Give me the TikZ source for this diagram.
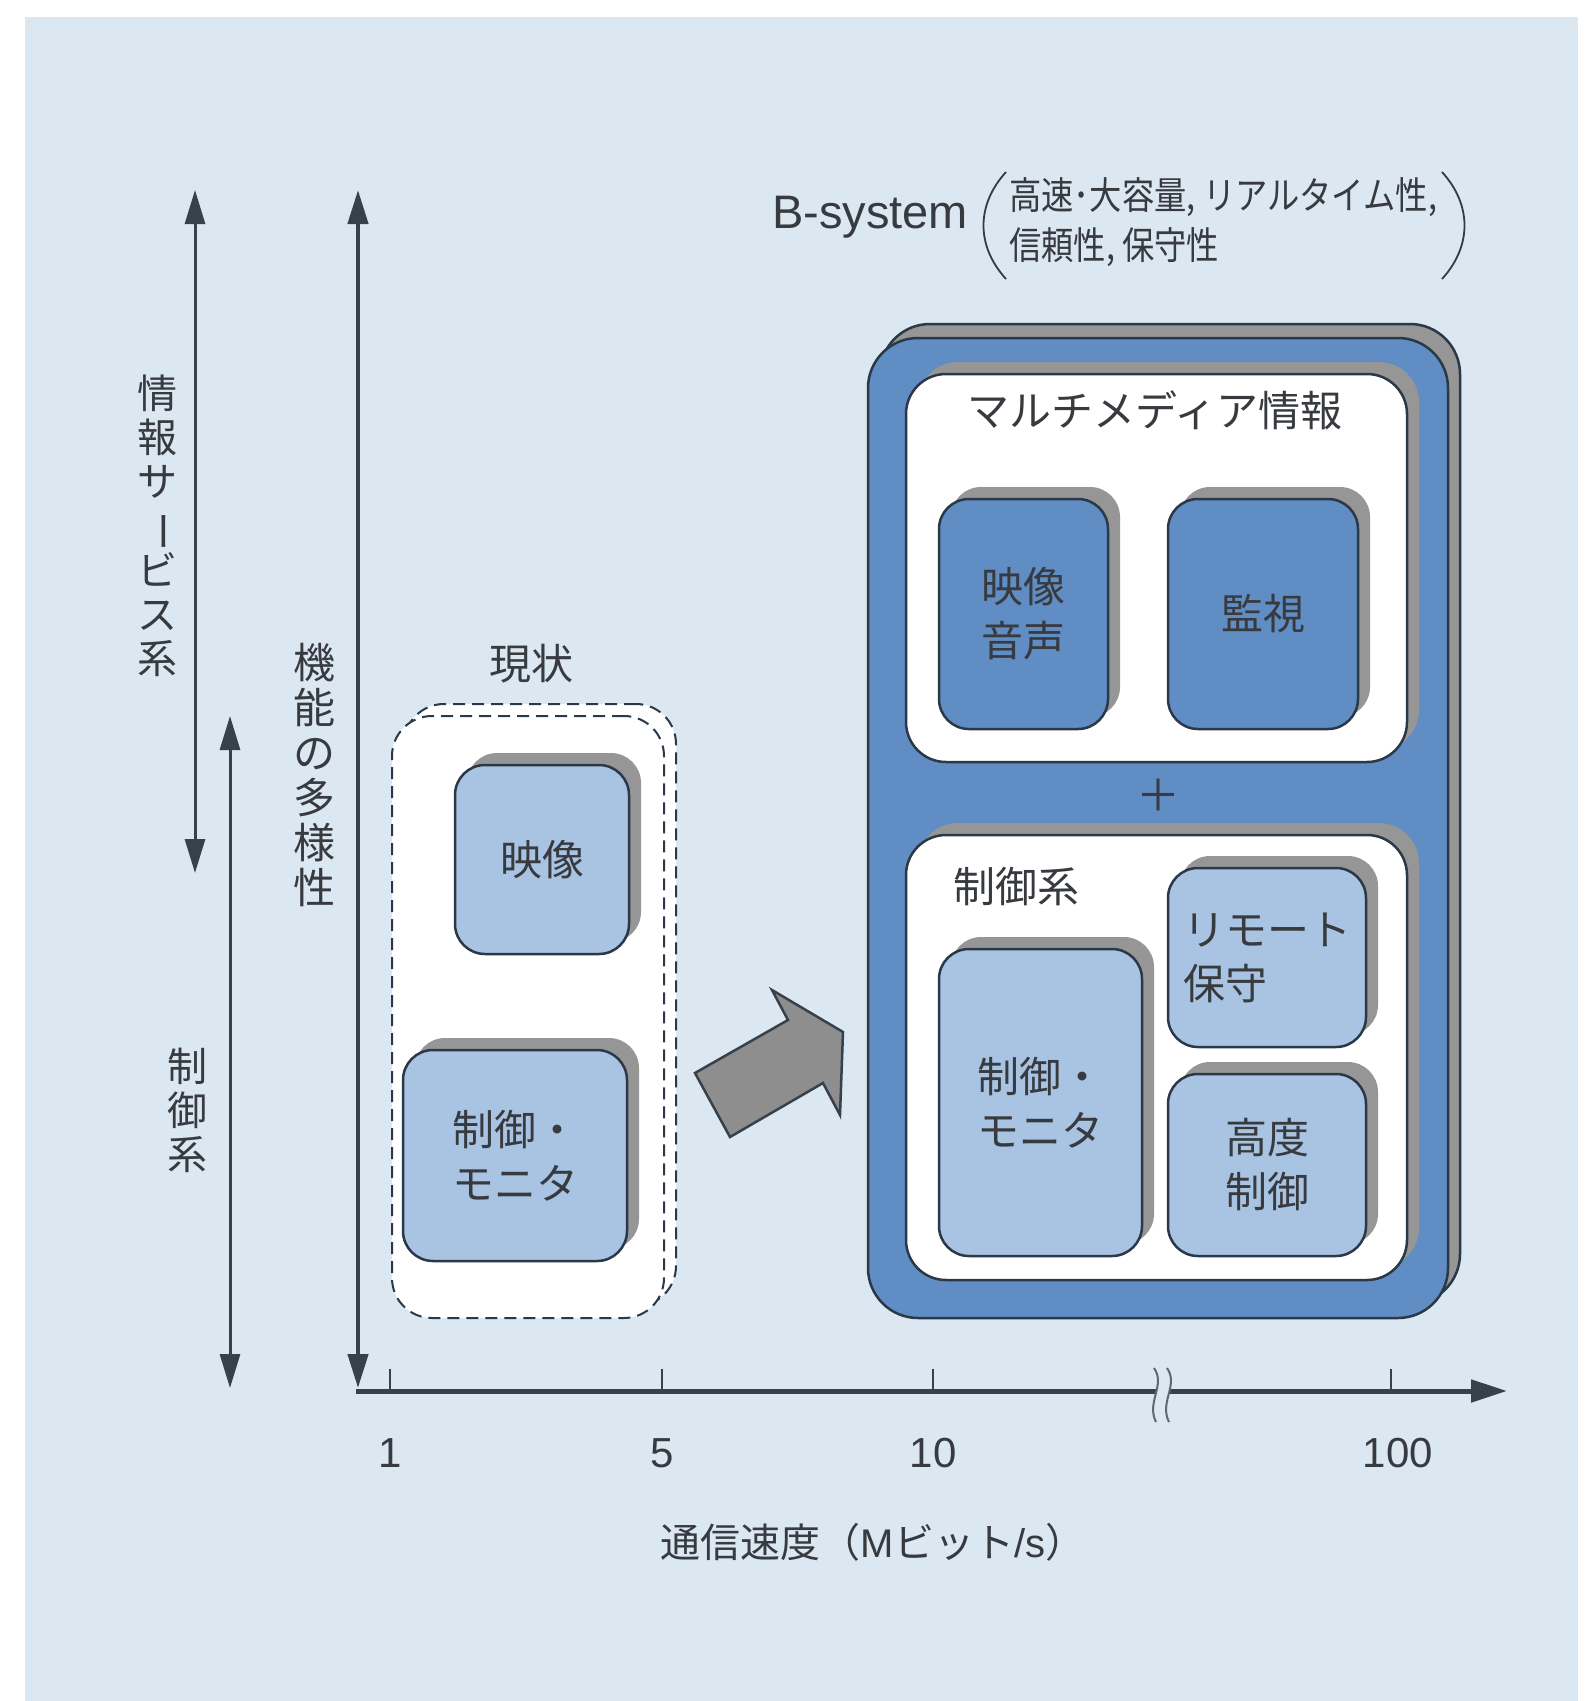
\documentclass[tikz,border=0pt]{standalone}
\usepackage{fontspec}
\setmainfont{Noto Sans CJK JP}
\newfontfamily\lsans{Liberation Sans}
\usetikzlibrary{arrows.meta,shadows}
\definecolor{bgblue}{RGB}{219,231,241}
\definecolor{midblue}{RGB}{96,141,196}
\definecolor{lightblue}{RGB}{168,196,226}
\definecolor{edge}{RGB}{42,56,72}
\definecolor{shadowgray}{RGB}{150,150,150}
\definecolor{txt}{RGB}{55,58,62}
\definecolor{arrowgray}{RGB}{142,142,142}
\definecolor{axiscol}{RGB}{55,65,75}
\newcommand{\fsz}[2]{\fontsize{#1pt}{#2pt}\selectfont}
\begin{document}
\begin{tikzpicture}[x=1pt,y=-1pt,
  every node/.style={text=txt, inner sep=0pt},
  shbox/.style={draw=edge, line width=2.5pt, rounded corners=#1,
    drop shadow={shadow xshift=12pt,shadow yshift=12pt,fill=shadowgray,opacity=1}},
  bigbox/.style={draw=edge, line width=2.5pt, rounded corners=50pt, fill=midblue,
    drop shadow={shadow xshift=12pt,shadow yshift=14pt,fill=shadowgray,draw=edge,line width=2.5pt,opacity=1}},
  whitebox/.style={shbox=40pt, fill=white},
  darkitem/.style={shbox=30pt, fill=midblue},
  lightitem/.style={shbox=30pt, fill=lightblue},
  dashbox/.style={draw=edge, line width=2pt, dash pattern=on 12pt off 7pt, rounded corners=40pt, fill=white},
  lbl/.style={font=\fsz{42}{54}, align=center},
  vlbl/.style={font=\fsz{40}{44}, align=center},
  tipA/.style={},
  dblarrow/.style={line width=3pt, draw=axiscol, {Triangle[length=34pt,width=20pt]}-{Triangle[length=34pt,width=20pt]}},
]
\useasboundingbox (0,0) rectangle (1591,1701);
\fill[white] (0,0) rectangle (1591,1701);
\fill[bgblue] (25,17) rectangle (1578,1701);

% left vertical arrows and labels
\coordinate (infoT) at (195,190);
\coordinate (infoB) at (195,873);
\coordinate (ctrlT) at (230,716);
\coordinate (ctrlB) at (230,1388);
\coordinate (yT) at (358,190);
\coordinate (yB) at (358,1388);
\coordinate (O) at (356,1391);
\coordinate (xE) at (1507,1391);
\draw[dblarrow] (infoT) -- (infoB);
\draw[dblarrow] (ctrlT) -- (ctrlB);
\draw[dblarrow, line width=4.5pt] (yT) -- (yB);
\draw[line width=5pt, draw=axiscol, -{Triangle[length=36pt,width=22pt]}] (O) -- (xE);

\node[vlbl] (infolbl) at (157,526) {情\\報\\サ\\\rotatebox[origin=c]{-90}{ー}\\ビ\\ス\\系};
\node[vlbl] (ctrllbl) at (187,1110) {制\\御\\系};
\node[vlbl, font=\fsz{42}{45}] (divlbl) at (314,775) {機\\能\\の\\多\\様\\性};

% ticks
\foreach \tx in {390,662,933,1391} \draw[line width=1.5pt, axiscol] (\tx,1391) -- (\tx,1369);
\node[font=\lsans\fsz{42}{50}] (t1) at (390,1453) {1};
\node[font=\lsans\fsz{42}{50}] (t5) at (662,1453) {5};
\node[font=\lsans\fsz{42}{50}] (t10) at (933,1453) {10};
\node[font=\lsans\fsz{42}{50}] (t100) at (1398,1453) {100};

% axis break
\fill[bgblue] (1154,1368) .. controls (1166,1385) and (1146,1402) .. (1156,1422)
  -- (1169,1422) .. controls (1159,1402) and (1179,1385) .. (1167,1368) -- cycle;
\draw[line width=2pt, axiscol!80] (1154,1368) .. controls (1166,1385) and (1146,1402) .. (1156,1422);
\draw[line width=2pt, axiscol!80] (1167,1368) .. controls (1179,1385) and (1159,1402) .. (1169,1422);

\node[font=\fsz{40}{48}] (xlbl) at (873,1542) {通信速度（{\lsans M}ビット{\lsans /s}）};

% B-system heading
\node[font=\lsans\fsz{47}{56}, anchor=west] (bs) at (772,217) {B-system};
\node[font=\fsz{38}{50}, anchor=west] (feat1) at (1009,197) {\scalebox{0.85}[1]{高速･大容量, リアルタイム性,}};
\node[font=\fsz{38}{50}, anchor=west] (feat2) at (1009,247) {\scalebox{0.85}[1]{信頼性, 保守性}};
\draw[line width=1.8pt, txt] (1006,172) .. controls (976,205) and (976,246) .. (1006,279);
\draw[line width=1.8pt, txt] (1442,172) .. controls (1472,205) and (1472,246) .. (1442,279);

% current state
\node[lbl] (curlbl) at (531,664) {現状};
\node[dashbox, minimum width=272pt, minimum height=602pt] (curB) at (540,1005) {};
\node[dashbox, minimum width=272pt, minimum height=602pt] (curA) at (528,1017) {};
\node[lightitem, lbl, minimum width=174pt, minimum height=189pt] (curvid) at (542,859.5) {映像};
\node[lightitem, lbl, minimum width=224pt, minimum height=211pt] (curctl) at (515,1155.5) {制御・\\モニタ};

% block arrow
\draw[fill=arrowgray, draw=axiscol, line width=2.5pt, line join=miter]
  (695,1073) -- (788,1020) -- (772,990) -- (843,1032) -- (840,1115) -- (823,1083) -- (730,1137) -- cycle;

% B-system box
\node[bigbox, minimum width=580pt, minimum height=980pt] (bsys) at (1158,828) {};
\node[whitebox, minimum width=501pt, minimum height=388pt] (mm) at (1156.5,568) {};
\node[lbl] (mmlbl) at (1155,410) {マルチメディア情報};
\node[darkitem, lbl, minimum width=169pt, minimum height=230pt] (av) at (1023.5,614) {映像\\音声};
\node[darkitem, lbl, minimum width=190pt, minimum height=230pt] (mon) at (1263,614) {監視};
\node[font=\fsz{44}{50}] (plus) at (1158,795) {＋};
\node[whitebox, minimum width=501pt, minimum height=445pt] (cs) at (1156.5,1057.5) {};
\node[lbl] (cslbl) at (1016,887) {制御系};
\node[lightitem, lbl, align=left, minimum width=198pt, minimum height=179pt] (rm) at (1267,957.5) {リモート\\保守};
\node[lightitem, lbl, minimum width=203pt, minimum height=307pt] (cm) at (1040.5,1102.5) {制御・\\モニタ};
\node[lightitem, lbl, minimum width=198pt, minimum height=182pt] (adv) at (1267,1165) {高度\\制御};
\end{tikzpicture}
\end{document}
